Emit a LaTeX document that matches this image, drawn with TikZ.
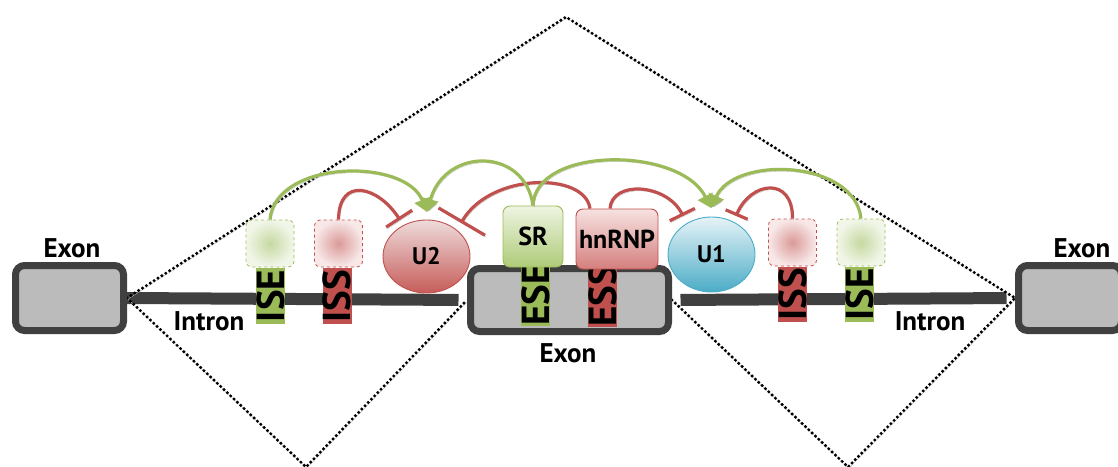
\documentclass[tikz,border=0pt]{standalone}
\usepackage{fontspec}
\setmainfont{PT Sans}
\usetikzlibrary{shapes.geometric,arrows.meta}
\definecolor{grn}{HTML}{9BBB59}
\definecolor{rd}{HTML}{C0504D}
\definecolor{bl}{HTML}{4BACC6}
\definecolor{dk}{HTML}{404040}
\definecolor{exfill}{HTML}{BBBBBB}
\definecolor{gtin}{HTML}{C6D9A1}
\definecolor{gtout}{HTML}{F2F6E9}
\definecolor{rtin}{HTML}{DA9A98}
\definecolor{rtout}{HTML}{F8E8E8}
\definecolor{srtop}{HTML}{EEF4E2}
\definecolor{srbot}{HTML}{AECB78}
\definecolor{hntop}{HTML}{F6E2E1}
\definecolor{hnbot}{HTML}{D47F7D}
\definecolor{utop}{HTML}{EEDCDC}
\definecolor{ubot}{HTML}{C65C59}
\definecolor{vtop}{HTML}{E6F3F7}
\definecolor{vbot}{HTML}{4BACC6}
\pgfdeclarelayer{bg}
\pgfsetlayers{bg,main}
\begin{document}
\begin{tikzpicture}[x=1pt,y=-1pt,
  exon/.style={draw=dk, line width=7pt, fill=exfill, rounded corners=9pt, inner sep=0pt},
  intron/.style={draw=dk, line width=12pt},
  splice/.style={line width=3.4pt, dash pattern=on 0pt off 4.6pt, line cap=round, draw=black,
     preaction={draw=black!25, transform canvas={shift={(0.8pt,-1.2pt)}}}},
  lbl/.style={font=\bfseries\fontsize{27}{27}\selectfont, inner sep=0pt},
  bar/.style={rotate=90, minimum width=56pt, minimum height=29pt, inner sep=0pt,
     font=\bfseries\fontsize{39}{39}\selectfont, text=black},
  tile/.style={rectangle, rounded corners=6pt, minimum width=48pt, minimum height=47pt,
     dashed, line width=0.8pt, inner sep=0pt},
  prot/.style={ellipse, line width=0.9pt, inner sep=0pt, minimum width=87pt,
     font=\bfseries\fontsize{24}{24}\selectfont},
  pbox/.style={rectangle, rounded corners=7pt, line width=0.9pt, inner sep=0pt,
     font=\bfseries\fontsize{26}{26}\selectfont},
  shd/.style={preaction={draw=black!25, transform canvas={shift={(1.2pt,-1.8pt)}}}},
  act/.style={draw=grn, line width=3.2pt, shd, -{Triangle[width=16pt,length=13pt]}},
  inh/.style={draw=rd, line width=3.2pt, shd}
]
\useasboundingbox (0,0) rectangle (1118,466);

% exons
\node[exon, minimum width=108pt, minimum height=65pt] (exL) at (69.5,298) {};
\node[exon, minimum width=198pt, minimum height=63pt] (exM) at (569.5,300) {};
\node[exon, minimum width=103pt, minimum height=65pt] (exR) at (1070,298) {};

% splice geometry
\coordinate (apexT) at (566,17);
\coordinate (apexL) at (306,467);
\coordinate (apexR) at (848,467);

\begin{pgfonlayer}{bg}
  \draw[intron, shorten >=8.5pt] (exL.east) -- (exM.west);
  \draw[intron, shorten <=8.5pt, shorten >=8.5pt] (exM.east) -- (exR.west);
  \draw[splice] (exL.east) -- (apexT) -- (exR.west);
  \draw[splice] (exL.east) -- (apexL) -- (exM.west);
  \draw[splice] (exM.east) -- (apexR) -- (exR.west);
\end{pgfonlayer}

% labels
\node[lbl] (exLlab) at (72,248) {Exon};
\node[lbl] (exRlab) at (1082,248) {Exon};
\node[lbl] (exMlab) at (568,353) {Exon};
\node[lbl] (inLlab) at (209,321) {Intron};
\node[lbl] (inRlab) at (930,321) {Intron};

% sequence elements (bars)
\node[bar, fill=grn] (iseLb) at (270.5,296) {ISE};
\node[bar, fill=rd] (issLb) at (337,296) {ISS};
\node[bar, fill=grn, minimum width=58pt] (eseb) at (535.5,295) {ESE};
\node[bar, fill=rd] (essb) at (602.5,296) {ESS};
\node[bar, fill=rd, minimum width=55pt] (issRb) at (792.5,294.5) {ISS};
\node[bar, fill=grn, minimum width=55pt] (iseRb) at (859.5,294.5) {ISE};

% factor tiles
\node[tile, draw=grn, inner color=gtin, outer color=gtout] (iseL) at (270,243.5) {};
\node[tile, draw=rd, inner color=rtin, outer color=rtout] (issL) at (338.5,243.5) {};
\node[tile, draw=rd, inner color=rtin, outer color=rtout] (issR) at (792.5,242.5) {};
\node[tile, draw=grn, inner color=gtin, outer color=gtout] (iseR) at (861,242.5) {};

% proteins
\node[prot, draw=rd, minimum height=73pt, top color=utop, bottom color=ubot] (u2) at (426.5,256.5) {U2};
\node[prot, draw=bl, minimum height=75pt, top color=vtop, bottom color=vbot] (u1) at (711.5,254.5) {U1};
\node[pbox, draw=grn, minimum width=60pt, minimum height=61pt, top color=srtop, bottom color=srbot] (sr) at (533,236.5) {SR};
\node[pbox, draw=rd, minimum width=82pt, minimum height=60pt, top color=hntop, bottom color=hnbot] (hn) at (617,239) {hnRNP};

% targets
\coordinate (u2tip) at (427,212);
\coordinate (u1tip) at (711,208);
\coordinate (r1end) at (400,220);
\coordinate (r2end) at (461,223);
\coordinate (r3end) at (683,216);
\coordinate (r4end) at (736,216);

% inhibition arcs
\draw[inh, -{Bar[width=31pt]}] (issL.north) .. controls (339,176) and (378,186) .. (r1end);
\draw[inh, -{Bar[width=54pt]}] ([xshift=-27pt]hn.north) .. controls (585,172) and (491,172) .. (r2end);
\draw[inh, -{Bar[width=28pt]}] ([xshift=-7pt]hn.north) .. controls (612,180) and (667,183.5) .. (r3end);
\draw[inh, -{Bar[width=24pt]}] (issR.north) .. controls (793,176) and (751,181) .. (r4end);

% activation arcs
\draw[act] (iseL.north) .. controls (275,160) and (405,157) .. (u2tip);
\draw[act] (sr.north) .. controls (525,147) and (445,147) .. (u2tip);
\draw[act] (sr.north) .. controls (535,146) and (680,146) .. (u1tip);
\draw[act] (iseR.north) .. controls (855,160) and (735,155) .. (u1tip);
\end{tikzpicture}
\end{document}
